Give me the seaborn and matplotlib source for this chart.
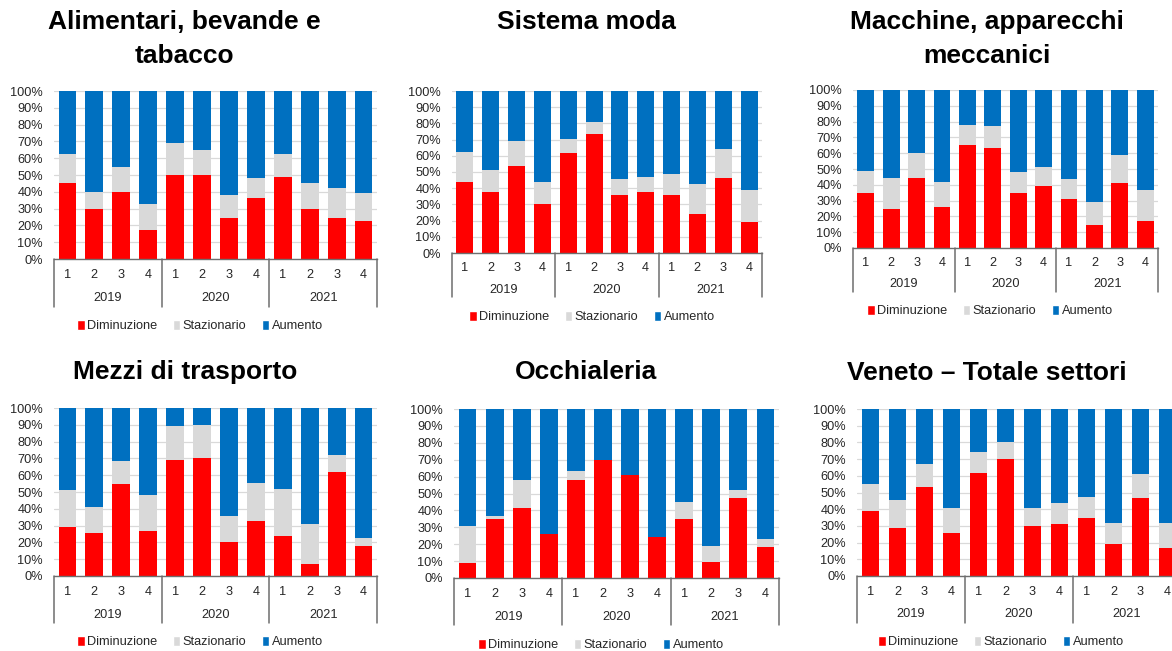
import matplotlib
matplotlib.use("Agg")
import matplotlib.pyplot as plt
import seaborn as sns
import numpy as np
import pandas as pd
from matplotlib.patches import Patch
from matplotlib.lines import Line2D
from matplotlib.transforms import blended_transform_factory

# ---------------- data ----------------
years = ["2019", "2020", "2021"]
quarters = ["1", "2", "3", "4"]
series_names = ["Diminuzione", "Stazionario", "Aumento"]

titles = [
    ["Alimentari, bevande e", "tabacco"],
    ["Sistema moda"],
    ["Macchine, apparecchi", "meccanici"],
    ["Mezzi di trasporto"],
    ["Occhialeria"],
    ["Veneto \u2013 Totale settori"],
]

alim_dim = [45, 30, 40, 17.5, 50, 50, 24.5, 36.5, 49, 30, 24.5, 22.5]
alim_sta = [17.5, 10, 15, 15, 19, 15, 13.5, 12, 13.5, 15.5, 18, 16.5]
alim_aum = [37.5, 60, 45, 67.5, 31, 35, 62, 51.5, 37.5, 54.5, 57.5, 61]

moda_dim = [44, 37.5, 53.5, 30, 62, 73.5, 36, 37.5, 35.5, 24, 46, 19]
moda_sta = [18.5, 13.5, 15.5, 14, 8.5, 7.5, 9.5, 9.5, 13.5, 18.5, 18, 20]
moda_aum = [37.5, 49, 31, 56, 29.5, 19, 54.5, 53, 51, 57.5, 36, 61]

macc_dim = [35, 24.5, 44.5, 26, 65.5, 63, 35, 39, 31, 14.5, 41, 17]
macc_sta = [13.5, 20, 15.5, 16, 12.5, 14, 13, 12, 12.5, 14.5, 18, 19.5]
macc_aum = [51.5, 55.5, 40, 58, 22, 23, 52, 49, 56.5, 71, 41, 63.5]

mezzi_dim = [29, 25.5, 54.5, 26.5, 69, 70.5, 20, 32.5, 24, 7, 62, 18]
mezzi_sta = [22, 15.5, 14, 22, 20, 19.5, 15.5, 23, 27.5, 24, 10, 4.5]
mezzi_aum = [49, 59, 31.5, 51.5, 11, 10, 64.5, 44.5, 48.5, 69, 28, 77.5]

occh_dim = [9, 35, 41.5, 26, 58, 70, 61, 24.5, 35, 9.5, 47.5, 18.5]
occh_sta = [21.5, 1.5, 16.5, 0, 5.5, 0, 0, 0, 10, 9.5, 4.5, 4.5]
occh_aum = [69.5, 63.5, 42, 74, 36.5, 30, 39, 75.5, 55, 81, 48, 77]

ven_dim = [39, 29, 53, 26, 61.5, 70, 30, 31, 35, 19, 47, 17]
ven_sta = [16, 16.5, 14, 14.5, 12.5, 10.5, 11, 12.5, 12.5, 13, 14, 14.5]
ven_aum = [45, 54.5, 33, 59.5, 26, 19.5, 59, 56.5, 52.5, 68, 39, 68.5]

panel_data = [
    (alim_dim, alim_sta, alim_aum),
    (moda_dim, moda_sta, moda_aum),
    (macc_dim, macc_sta, macc_aum),
    (mezzi_dim, mezzi_sta, mezzi_aum),
    (occh_dim, occh_sta, occh_aum),
    (ven_dim, ven_sta, ven_aum),
]

# ---------------- style ----------------
RED, GRAY, BLUE = "#FF0000", "#D9D9D9", "#0070C0"
AXCOL = "#6E6E6E"
TXT = "#262626"

sns.set_theme(style="white")
plt.rcParams["font.family"] = ["Liberation Sans", "DejaVu Sans"]

W, H = 1172, 651
fig = plt.figure(figsize=(W / 100, H / 100), dpi=100)

# layout in pixels: left, right, top(100%), bottom(0%), quarter-label y, year y,
# separator bottom y, legend center x, legend y, title x, title baselines
layout = [
    dict(l=54, r=377, t=91, b=259, qy=275, yy=298, sy=307, lx=200, ly=326, tx=184, tys=[29, 63]),
    dict(l=452, r=762, t=91, b=253, qy=268, yy=290, sy=297, lx=592, ly=317, tx=586, tys=[29]),
    dict(l=853, r=1158, t=90, b=248, qy=263, yy=284, sy=292, lx=990, ly=311, tx=987, tys=[29, 63]),
    dict(l=54, r=377, t=408, b=576, qy=592, yy=615, sy=623, lx=200, ly=642, tx=185, tys=[379]),
    dict(l=454, r=779, t=409, b=578, qy=594, yy=617, sy=625, lx=601, ly=645, tx=586, tys=[379]),
    dict(l=857, r=1181, t=409, b=576, qy=592, yy=614, sy=623, lx=1001, ly=642, tx=987, tys=[380]),
]

def fx(px):
    return px / W

def fy(py):
    return 1 - py / H

cats = [f"{y}-{q}" for y in years for q in quarters]

for (dim, sta, aum), L, tlines in zip(panel_data, layout, titles):
    ax = fig.add_axes([fx(L["l"]), fy(L["b"]), (L["r"] - L["l"]) / W, (L["b"] - L["t"]) / H])
    dim = np.array(dim, float)
    sta = np.array(sta, float)
    aum = np.array(aum, float)
    df = pd.DataFrame({"cat": cats,
                       "top": dim + sta + aum,
                       "mid": dim + sta,
                       "low": dim})
    for col, c in (("top", BLUE), ("mid", GRAY), ("low", RED)):
        sns.barplot(data=df, x="cat", y=col, order=cats, color=c, saturation=1,
                    width=0.66, errorbar=None, ax=ax, linewidth=0)
    ax.set_xlim(-0.5, 11.5)
    ax.set_ylim(0, 100)
    ax.set_xlabel("")
    ax.set_ylabel("")
    ax.set_yticks(np.arange(0, 101, 10))
    ax.set_yticklabels([f"{v}%" for v in range(0, 101, 10)], fontsize=9.2, color=TXT)
    ax.set_xticks([])
    ax.tick_params(axis="y", length=0, pad=8)
    ax.yaxis.grid(True, color="#D9D9D9", lw=0.9)
    ax.set_axisbelow(True)
    for s in ("top", "right", "left"):
        ax.spines[s].set_visible(False)
    ax.spines["bottom"].set_color(AXCOL)
    ax.spines["bottom"].set_linewidth(1.0)

    bt = blended_transform_factory(ax.transData, fig.transFigure)
    for i in range(12):
        ax.text(i, fy(L["qy"]), quarters[i % 4], transform=bt, ha="center", va="center",
                fontsize=9.2, color=TXT)
    for g, yr in enumerate(years):
        ax.text(4 * g + 1.5, fy(L["yy"]), yr, transform=bt, ha="center", va="center",
                fontsize=9.2, color=TXT)
    for xs in (-0.5, 3.5, 7.5, 11.5):
        fig.add_artist(Line2D([xs, xs], [fy(L["b"]), fy(L["sy"])], transform=bt,
                              color=AXCOL, lw=1.1, clip_on=False))

    for line, ty in zip(tlines, L["tys"]):
        fig.text(fx(L["tx"]), fy(ty), line, ha="center", va="baseline",
                 fontsize=19, fontweight="bold", color="black")

    handles = [Patch(facecolor=RED, label=series_names[0]),
               Patch(facecolor=GRAY, label=series_names[1]),
               Patch(facecolor=BLUE, label=series_names[2])]
    leg = ax.legend(handles=handles, loc="center", bbox_to_anchor=(fx(L["lx"]), fy(L["ly"])),
                    bbox_transform=fig.transFigure, ncol=3, frameon=False, fontsize=9.2,
                    handlelength=0.6, handleheight=0.85, handletextpad=0.2,
                    columnspacing=1.2, borderpad=0, borderaxespad=0)
    for t in leg.get_texts():
        t.set_color(TXT)

fig.savefig("out.png", dpi=100)
